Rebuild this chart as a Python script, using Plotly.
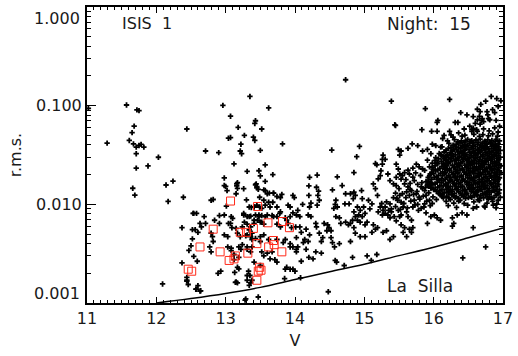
import plotly.graph_objects as go

# Photometric scatter: r.m.s. of each light curve versus V magnitude.
# Bright field stars (V < 12.65)
stars_bright = [
    (11.02, 0.094), (11.57, 0.1016), (11.72, 0.0906), (11.75, 0.089), (11.68, 0.0621),
    (11.65, 0.0533), (11.61, 0.0444), (11.67, 0.041), (11.71, 0.038), (11.75, 0.0395),
    (11.78, 0.0405), (11.82, 0.038), (11.29, 0.0417), (11.71, 0.0326), (12.03, 0.030),
    (11.71, 0.0233), (11.88, 0.0245), (12.44, 0.058), (12.24, 0.0172), (12.14, 0.0157),
    (11.66, 0.01456), (11.69, 0.0124), (12.17, 0.0107), (12.39, 0.0118), (12.54, 0.0081),
    (12.37, 0.0058), (12.52, 0.00554), (12.56, 0.00554), (12.52, 0.00447), (12.47, 0.00341),
    (12.50, 0.0038), (12.54, 0.00297), (12.37, 0.00255), (12.44, 0.00182), (12.44, 0.00167),
    (12.46, 0.00154), (12.09, 0.00156), (12.57, 0.00138), (12.59, 0.00265), (12.60, 0.0052),
    (12.58, 0.00138), (12.63, 0.00132), (12.53, 0.0081), (12.58, 0.0081), (12.60, 0.0015),
    (12.44, 0.0017),
]

# Stars between V = 12.6 and 14.1
stars_mid = [
    (13.35, 0.124), (12.96, 0.1008), (13.62, 0.0948), (13.07, 0.0782), (13.43, 0.0703),
    (13.42, 0.066), (13.18, 0.0603), (13.52, 0.058), (13.04, 0.0468), (13.07, 0.0475),
    (13.27, 0.050), (13.40, 0.0479), (13.42, 0.0444), (13.22, 0.0407), (13.82, 0.041),
    (12.71, 0.0347), (12.90, 0.0334), (13.21, 0.0347), (13.23, 0.0326), (13.50, 0.0352),
    (13.57, 0.0251), (13.12, 0.0257), (13.31, 0.0216), (13.48, 0.0219), (13.50, 0.0194),
    (13.68, 0.020), (12.98, 0.0185), (13.57, 0.0171), (13.17, 0.0166), (13.16, 0.0154),
    (13.17, 0.0145), (13.00, 0.0152), (13.02, 0.0138), (13.43, 0.0158), (13.45, 0.0151),
    (13.47, 0.0142), (13.55, 0.014), (13.26, 0.0144), (13.15, 0.0128), (13.63, 0.013),
    (13.69, 0.013), (13.81, 0.0126), (13.79, 0.0117), (13.97, 0.0123), (13.99, 0.0117),
    (12.79, 0.011), (12.82, 0.0112), (13.30, 0.0111), (13.49, 0.0118), (13.55, 0.011),
    (13.62, 0.0105), (13.68, 0.0105), (13.90, 0.0098), (13.01, 0.0096), (13.34, 0.0094),
    (13.37, 0.0093), (13.41, 0.0094), (13.45, 0.0098), (13.49, 0.0094), (13.52, 0.0091),
    (13.57, 0.0098), (13.64, 0.0094), (13.74, 0.0094), (13.79, 0.0084), (13.93, 0.0094),
    (13.97, 0.0082), (12.69, 0.0075), (12.71, 0.0064), (12.91, 0.0077), (13.08, 0.0075),
    (13.04, 0.0064), (13.26, 0.0078), (13.31, 0.0075), (13.36, 0.0076), (13.43, 0.0078),
    (13.48, 0.0075), (13.52, 0.0077), (13.57, 0.0075), (13.67, 0.0077), (13.74, 0.0075),
    (13.86, 0.0073), (13.90, 0.0064), (12.63, 0.0064), (12.65, 0.0059), (13.07, 0.0064),
    (13.09, 0.0058), (13.27, 0.0066), (13.31, 0.0063), (13.36, 0.0059), (13.41, 0.0064),
    (13.46, 0.0069), (13.50, 0.0066), (13.55, 0.0063), (13.74, 0.0063), (13.79, 0.0059),
    (13.88, 0.0069), (13.95, 0.0058), (14.01, 0.0059), (12.79, 0.0051), (12.82, 0.0042),
    (12.81, 0.0047), (12.98, 0.0049), (13.03, 0.0047), (13.17, 0.0051), (13.21, 0.0047),
    (13.31, 0.0049), (13.36, 0.0047), (13.38, 0.0044), (13.50, 0.0047), (13.55, 0.0049),
    (13.62, 0.0044), (13.86, 0.0044), (13.93, 0.0040), (13.97, 0.0037), (12.77, 0.0037),
    (12.79, 0.0033), (13.03, 0.0037), (13.08, 0.0036), (13.19, 0.0037), (13.22, 0.0035),
    (13.31, 0.0035), (13.36, 0.0033), (13.52, 0.0033), (13.60, 0.0032), (13.67, 0.0033),
    (13.71, 0.00275), (12.93, 0.0021), (13.12, 0.00275), (13.19, 0.00222), (13.41, 0.0026),
    (13.50, 0.0024), (13.86, 0.0022), (13.93, 0.0022), (14.00, 0.0021), (13.15, 0.00163),
    (13.31, 0.0017), (13.36, 0.0016), (13.34, 0.00151), (13.85, 0.00177), (12.64, 0.00133),
    (13.29, 0.0011), (13.47, 0.00115), (12.98, 0.0155), (13.16, 0.0161), (13.44, 0.0161),
    (13.45, 0.0147), (13.57, 0.0138), (13.60, 0.0128), (13.69, 0.0130), (13.74, 0.0120),
    (12.84, 0.0069), (12.91, 0.0064), (12.98, 0.0078), (13.10, 0.0072), (13.26, 0.0081),
    (13.34, 0.0075), (13.41, 0.0069), (13.48, 0.0078), (13.52, 0.0066), (13.60, 0.0078),
    (13.69, 0.0075), (13.78, 0.0081), (13.93, 0.0075), (14.07, 0.0075), (13.15, 0.0057),
    (13.24, 0.0059), (13.34, 0.0055), (13.38, 0.0051), (13.29, 0.0048), (13.43, 0.0045),
    (13.50, 0.0042), (13.31, 0.0037), (13.24, 0.0039), (13.38, 0.0037), (13.74, 0.0044),
    (13.83, 0.0041), (13.93, 0.0037), (14.02, 0.0035), (14.12, 0.0041), (13.08, 0.0034),
    (13.12, 0.0031), (13.19, 0.0029), (13.55, 0.0030), (13.64, 0.0028), (13.74, 0.0026),
    (13.88, 0.0023), (13.97, 0.0022), (12.89, 0.0020), (13.31, 0.0019), (13.38, 0.0017),
    (13.17, 0.0016), (13.13, 0.00204), (13.14, 0.00162), (13.17, 0.0023), (13.33, 0.0021),
    (13.35, 0.0019), (13.28, 0.00107),
]

# Stars between V = 14.0 and 15.45
stars_faint = [
    (14.73, 0.183), (15.39, 0.111), (15.44, 0.064), (14.53, 0.0355), (14.93, 0.0386),
    (14.89, 0.0304), (14.85, 0.021), (15.16, 0.0259), (15.18, 0.0251), (15.27, 0.0316),
    (15.26, 0.0286), (15.30, 0.0286), (15.26, 0.0255), (15.24, 0.0219), (15.23, 0.0195),
    (15.20, 0.0181), (15.34, 0.0203), (15.37, 0.0174), (15.42, 0.0161), (14.21, 0.0188),
    (14.32, 0.0198), (14.61, 0.019), (14.20, 0.0154), (14.31, 0.0149), (14.34, 0.0136),
    (14.20, 0.0123), (14.23, 0.0103), (14.21, 0.0094), (14.33, 0.0123), (14.35, 0.011),
    (14.32, 0.0098), (14.11, 0.010), (14.54, 0.014), (14.68, 0.0155), (14.80, 0.0128),
    (14.85, 0.0133), (14.87, 0.0123), (14.84, 0.0114), (14.96, 0.0138), (14.97, 0.0114),
    (14.59, 0.011), (14.58, 0.010), (14.61, 0.0094), (14.56, 0.0091), (14.73, 0.0128),
    (14.72, 0.0101), (14.78, 0.0101), (14.90, 0.0094), (14.94, 0.0087), (14.99, 0.0094),
    (15.06, 0.011), (15.11, 0.0101), (15.08, 0.009), (15.13, 0.0161), (15.16, 0.0144),
    (15.19, 0.0123), (15.23, 0.0094), (15.27, 0.0087), (15.30, 0.0081), (15.34, 0.0078),
    (15.37, 0.0101), (15.39, 0.009), (15.42, 0.0117), (15.43, 0.0075), (14.04, 0.0087),
    (14.02, 0.0078), (14.19, 0.0078), (14.23, 0.0075), (14.30, 0.0064), (14.31, 0.0059),
    (14.42, 0.0064), (14.47, 0.0062), (14.49, 0.0058), (14.52, 0.0054), (14.46, 0.0054),
    (14.59, 0.0075), (14.64, 0.0073), (14.66, 0.0064), (14.73, 0.0066), (14.77, 0.0062),
    (14.80, 0.0064), (14.85, 0.0058), (14.90, 0.0069), (14.94, 0.0066), (15.01, 0.0062),
    (15.04, 0.0066), (15.13, 0.0062), (15.16, 0.0056), (15.11, 0.0052), (15.19, 0.0058),
    (15.27, 0.0052), (15.32, 0.0054), (15.37, 0.0044), (15.42, 0.0047), (14.07, 0.0059),
    (14.16, 0.0056), (14.09, 0.0052), (14.21, 0.0049), (14.14, 0.0044), (14.19, 0.0042),
    (14.35, 0.0051), (14.38, 0.0042), (14.40, 0.0046), (14.52, 0.0046), (14.54, 0.0041),
    (14.57, 0.0037), (14.64, 0.0040), (14.80, 0.0042), (14.87, 0.0051), (14.94, 0.0047),
    (15.01, 0.0047), (14.02, 0.0046), (14.04, 0.0037), (14.02, 0.0033), (14.16, 0.0035),
    (14.30, 0.0033), (14.38, 0.0032), (14.20, 0.0029), (14.26, 0.0028), (14.09, 0.00265),
    (14.58, 0.0027), (14.60, 0.0026), (14.71, 0.0024), (14.83, 0.0029), (15.04, 0.0030),
    (15.10, 0.0027), (15.18, 0.0031), (14.08, 0.0018), (14.48, 0.0013), (15.25, 0.0102),
    (15.30, 0.0094), (15.35, 0.0087), (15.39, 0.0084), (15.32, 0.0106), (15.20, 0.0084),
    (15.26, 0.0078), (15.37, 0.0073), (14.85, 0.0084), (14.87, 0.0075), (14.92, 0.0078),
    (14.83, 0.0069), (14.97, 0.0075), (15.01, 0.0081),
]

# Stars between V = 15.4 and 17, outside the dense clump
stars_outer = [
    (16.23, 0.1156), (16.83, 0.124), (16.75, 0.111), (16.68, 0.103), (16.63, 0.092),
    (15.88, 0.0933), (16.39, 0.085), (16.48, 0.0807), (16.78, 0.0807), (16.81, 0.072),
    (16.72, 0.069), (16.67, 0.065), (16.05, 0.0676), (16.31, 0.0676), (16.35, 0.0676),
    (15.83, 0.0571), (15.97, 0.055), (16.05, 0.055), (16.15, 0.050), (16.13, 0.0465),
    (16.23, 0.055), (16.25, 0.0505), (16.41, 0.049), (16.46, 0.044), (16.55, 0.055),
    (16.57, 0.059), (16.62, 0.057), (15.69, 0.041), (15.63, 0.0369), (15.53, 0.0347),
    (15.49, 0.036), (15.51, 0.0316), (15.77, 0.0394), (15.84, 0.0347), (15.91, 0.036),
    (15.98, 0.0407), (16.03, 0.0394), (16.10, 0.038), (15.96, 0.0326), (16.03, 0.0297),
    (15.91, 0.028), (16.10, 0.032), (16.15, 0.029), (15.75, 0.0255), (15.79, 0.024),
    (15.70, 0.0233), (15.84, 0.0228), (15.63, 0.0222), (15.58, 0.021), (15.65, 0.0203),
    (15.46, 0.0255), (15.49, 0.0228), (15.51, 0.0203), (15.46, 0.0188), (15.53, 0.018),
    (15.46, 0.0155), (15.50, 0.0144), (15.45, 0.013), (15.51, 0.0123), (15.48, 0.011),
    (15.53, 0.0105), (15.58, 0.0161), (15.63, 0.015), (15.68, 0.0138), (15.61, 0.0134),
    (15.65, 0.0123), (15.72, 0.0174), (15.77, 0.0159), (15.82, 0.015), (15.87, 0.0138),
    (15.75, 0.0128), (15.79, 0.0118), (15.91, 0.0158), (15.96, 0.0146), (15.89, 0.0123),
    (15.94, 0.011), (15.98, 0.0102), (15.72, 0.011), (15.77, 0.010), (15.70, 0.0094),
    (15.82, 0.0091), (15.87, 0.0101), (15.56, 0.0094), (15.61, 0.0084), (15.53, 0.0078),
    (15.63, 0.0075), (15.68, 0.0069), (15.49, 0.0087), (15.51, 0.0075), (15.46, 0.0068),
    (15.53, 0.0062), (15.58, 0.0058), (15.65, 0.0056), (15.70, 0.0058), (15.56, 0.0052),
    (15.61, 0.0047), (15.68, 0.0052), (15.89, 0.0082), (15.96, 0.0075), (16.01, 0.0078),
    (16.05, 0.0073), (16.10, 0.0069), (15.91, 0.0064), (16.27, 0.0073), (16.29, 0.0064),
    (16.27, 0.0060), (16.34, 0.0078), (16.41, 0.0082), (16.48, 0.0078), (16.57, 0.0091),
    (16.74, 0.0094), (16.86, 0.0098), (16.91, 0.0101), (16.57, 0.0058), (16.75, 0.0037),
    (16.42, 0.00286), (15.45, 0.0095), (15.47, 0.0115), (15.52, 0.0089), (15.55, 0.0128),
    (15.57, 0.0102), (15.60, 0.0117), (15.62, 0.0092), (15.66, 0.0141), (15.67, 0.0108),
    (15.71, 0.0126), (15.73, 0.0099), (15.76, 0.0135), (15.78, 0.0087), (15.80, 0.0113),
    (15.83, 0.0166), (15.85, 0.0121), (15.86, 0.0094), (15.88, 0.0148), (15.90, 0.0108),
    (15.92, 0.0187), (15.93, 0.0131), (15.95, 0.0097), (15.97, 0.0162), (15.99, 0.0119),
    (16.00, 0.0205), (16.02, 0.0142), (16.04, 0.0112), (16.06, 0.0178), (16.08, 0.0128),
    (15.55, 0.0195), (15.60, 0.0178), (15.66, 0.0163), (15.70, 0.0189), (15.74, 0.0208),
    (15.81, 0.0196), (15.87, 0.0221), (15.94, 0.0240), (15.98, 0.0262), (15.89, 0.0170),
    (15.84, 0.0145), (16.06, 0.0708), (15.45, 0.063),
    (16.60, 0.066), (16.70, 0.074), (16.88, 0.085), (16.93, 0.098), (16.90, 0.071),
    (16.95, 0.062), (16.52, 0.062), (16.44, 0.058), (16.36, 0.053), (16.28, 0.048),
    (16.20, 0.044), (16.85, 0.091), (16.77, 0.087), (16.66, 0.078), (16.97, 0.112),
    (16.91, 0.118), (16.67, 0.0871), (16.57, 0.0776), (16.63, 0.0718), (16.69, 0.0708),
    (16.79, 0.0738),
]

# Dense clump of faint stars, V = 15.9 to 17
stars_clump = [
    (16.55, 0.0572), (16.63, 0.0549), (16.72, 0.0581), (16.80, 0.0556), (16.88, 0.0595), (16.93, 0.0541),
    (16.45, 0.0503), (16.58, 0.0512), (16.66, 0.0489), (16.71, 0.0508), (16.79, 0.0495), (16.85, 0.0517),
    (16.92, 0.0492),
    (16.30, 0.0452), (16.40, 0.0439), (16.49, 0.0455), (16.55, 0.0441), (16.61, 0.0449), (16.67, 0.0458),
    (16.74, 0.0437), (16.78, 0.0451), (16.84, 0.0443), (16.90, 0.0456), (16.95, 0.0440),
    (16.22, 0.0415), (16.33, 0.0408), (16.38, 0.0419), (16.45, 0.0406), (16.52, 0.0414), (16.58, 0.0421),
    (16.63, 0.0405), (16.70, 0.0417), (16.76, 0.0409), (16.82, 0.0418), (16.87, 0.0404), (16.93, 0.0413),
    (16.12, 0.0383), (16.25, 0.0377), (16.31, 0.0386), (16.36, 0.0374), (16.42, 0.0381), (16.48, 0.0388),
    (16.54, 0.0376), (16.60, 0.0384), (16.66, 0.0373), (16.71, 0.0385), (16.77, 0.0379), (16.83, 0.0387),
    (16.89, 0.0375), (16.94, 0.0382),
    (16.18, 0.0354), (16.27, 0.0347), (16.33, 0.0356), (16.39, 0.0345), (16.45, 0.0352), (16.51, 0.0358),
    (16.57, 0.0346), (16.63, 0.0353), (16.69, 0.0349), (16.74, 0.0357), (16.80, 0.0344), (16.86, 0.0355),
    (16.91, 0.0348), (16.96, 0.0353),
    (16.08, 0.0327), (16.20, 0.0321), (16.26, 0.0329), (16.31, 0.0318), (16.37, 0.0325), (16.43, 0.0331),
    (16.48, 0.0319), (16.54, 0.0326), (16.60, 0.0322), (16.65, 0.0330), (16.71, 0.0317), (16.77, 0.0328),
    (16.83, 0.0323), (16.88, 0.0320), (16.94, 0.0327),
    (16.14, 0.0302), (16.22, 0.0296), (16.28, 0.0304), (16.34, 0.0293), (16.40, 0.0300), (16.46, 0.0306),
    (16.51, 0.0295), (16.57, 0.0301), (16.63, 0.0297), (16.68, 0.0305), (16.74, 0.0292), (16.80, 0.0303),
    (16.85, 0.0298), (16.91, 0.0294), (16.96, 0.0301),
    (16.02, 0.0278), (16.11, 0.0272), (16.18, 0.0280), (16.24, 0.0270), (16.30, 0.0276), (16.36, 0.0281),
    (16.42, 0.0271), (16.48, 0.0277), (16.54, 0.0273), (16.59, 0.0279), (16.65, 0.0269), (16.71, 0.0276),
    (16.76, 0.0274), (16.82, 0.0280), (16.88, 0.0271), (16.93, 0.0277),
    (16.06, 0.0257), (16.15, 0.0251), (16.21, 0.0258), (16.27, 0.0249), (16.33, 0.0255), (16.39, 0.0260),
    (16.45, 0.0250), (16.50, 0.0256), (16.56, 0.0252), (16.62, 0.0259), (16.68, 0.0248), (16.73, 0.0255),
    (16.79, 0.0253), (16.85, 0.0258), (16.90, 0.0250), (16.95, 0.0256),
    (15.98, 0.0237), (16.09, 0.0231), (16.17, 0.0238), (16.23, 0.0229), (16.29, 0.0235), (16.35, 0.0240),
    (16.41, 0.0230), (16.47, 0.0236), (16.53, 0.0232), (16.59, 0.0239), (16.64, 0.0228), (16.70, 0.0235),
    (16.76, 0.0233), (16.81, 0.0238), (16.87, 0.0230), (16.93, 0.0236),
    (16.03, 0.0219), (16.13, 0.0213), (16.20, 0.0220), (16.26, 0.0211), (16.32, 0.0217), (16.38, 0.0222),
    (16.44, 0.0212), (16.50, 0.0218), (16.56, 0.0214), (16.61, 0.0221), (16.67, 0.0210), (16.73, 0.0217),
    (16.78, 0.0215), (16.84, 0.0220), (16.90, 0.0212), (16.95, 0.0218),
    (15.95, 0.0203), (16.07, 0.0197), (16.16, 0.0204), (16.22, 0.0195), (16.28, 0.0201), (16.34, 0.0206),
    (16.40, 0.0196), (16.46, 0.0202), (16.52, 0.0198), (16.58, 0.0205), (16.64, 0.0194), (16.69, 0.0201),
    (16.75, 0.0199), (16.81, 0.0204), (16.87, 0.0196), (16.92, 0.0202),
    (16.01, 0.0187), (16.11, 0.0181), (16.19, 0.0188), (16.25, 0.0179), (16.31, 0.0185), (16.37, 0.0190),
    (16.43, 0.0180), (16.49, 0.0186), (16.55, 0.0182), (16.61, 0.0189), (16.66, 0.0178), (16.72, 0.0185),
    (16.78, 0.0183), (16.84, 0.0188), (16.89, 0.0180), (16.95, 0.0186),
    (15.92, 0.0172), (16.05, 0.0167), (16.14, 0.0173), (16.21, 0.0165), (16.27, 0.0171), (16.33, 0.0175),
    (16.39, 0.0166), (16.45, 0.0172), (16.51, 0.0168), (16.57, 0.0174), (16.63, 0.0164), (16.69, 0.0171),
    (16.74, 0.0169), (16.80, 0.0173), (16.86, 0.0166), (16.92, 0.0172),
    (15.99, 0.0159), (16.09, 0.0154), (16.17, 0.0160), (16.24, 0.0152), (16.30, 0.0158), (16.36, 0.0162),
    (16.42, 0.0153), (16.48, 0.0159), (16.54, 0.0155), (16.60, 0.0161), (16.66, 0.0151), (16.71, 0.0158),
    (16.77, 0.0156), (16.83, 0.0160), (16.89, 0.0153), (16.94, 0.0159),
    (15.96, 0.0147), (16.12, 0.0142), (16.20, 0.0148), (16.27, 0.0141), (16.33, 0.0146), (16.39, 0.0150),
    (16.45, 0.0141), (16.51, 0.0147), (16.57, 0.0143), (16.63, 0.0149), (16.68, 0.0140), (16.74, 0.0146),
    (16.80, 0.0144), (16.86, 0.0148), (16.91, 0.0142),
    (16.04, 0.0135), (16.15, 0.0131), (16.23, 0.0136), (16.30, 0.0129), (16.36, 0.0134), (16.42, 0.0138),
    (16.48, 0.0130), (16.54, 0.0135), (16.60, 0.0132), (16.65, 0.0137), (16.71, 0.0128), (16.77, 0.0134),
    (16.83, 0.0132), (16.88, 0.0136), (16.94, 0.0130),
    (16.10, 0.0125), (16.19, 0.0121), (16.26, 0.0126), (16.33, 0.0119), (16.40, 0.0124), (16.47, 0.0127),
    (16.53, 0.0120), (16.62, 0.0125), (16.68, 0.0122), (16.75, 0.0126), (16.81, 0.0119), (16.90, 0.0124),
    (16.14, 0.0116), (16.24, 0.0112), (16.31, 0.0117), (16.38, 0.0110), (16.46, 0.0115), (16.55, 0.0118),
    (16.64, 0.0111), (16.72, 0.0116), (16.79, 0.0113), (16.87, 0.0117), (16.93, 0.0110),
    (16.18, 0.0107), (16.29, 0.0103), (16.36, 0.0108), (16.44, 0.0102), (16.58, 0.0106), (16.66, 0.0109),
    (16.77, 0.0103), (16.85, 0.0107),
    (16.21, 0.0097), (16.33, 0.0093), (16.49, 0.0098), (16.62, 0.0094), (16.73, 0.0096), (16.90, 0.0092),
]

# More members of the clump, lying between the ones above
stars_clump_b = [
    (16.35, 0.0431), (16.44, 0.0426), (16.53, 0.0433), (16.64, 0.0425), (16.73, 0.0430), (16.81, 0.0428),
    (16.89, 0.0434),
    (16.28, 0.0398), (16.41, 0.0393), (16.49, 0.0399), (16.56, 0.0394), (16.68, 0.0397), (16.74, 0.0392),
    (16.85, 0.0400), (16.91, 0.0395),
    (16.21, 0.0367), (16.29, 0.0362), (16.39, 0.0368), (16.46, 0.0363), (16.57, 0.0366), (16.64, 0.0361),
    (16.72, 0.0369), (16.79, 0.0364), (16.87, 0.0367), (16.93, 0.0362),
    (16.15, 0.0339), (16.24, 0.0335), (16.35, 0.0340), (16.41, 0.0334), (16.52, 0.0338), (16.59, 0.0336),
    (16.67, 0.0341), (16.75, 0.0333), (16.83, 0.0339), (16.90, 0.0335),
    (16.11, 0.0313), (16.18, 0.0309), (16.25, 0.0314), (16.37, 0.0308), (16.44, 0.0312), (16.54, 0.0310),
    (16.61, 0.0315), (16.71, 0.0307), (16.78, 0.0313), (16.86, 0.0309), (16.93, 0.0311),
    (16.07, 0.0289), (16.17, 0.0285), (16.26, 0.0290), (16.32, 0.0284), (16.43, 0.0288), (16.49, 0.0286),
    (16.60, 0.0291), (16.66, 0.0283), (16.77, 0.0289), (16.83, 0.0285), (16.94, 0.0287),
    (16.05, 0.0266), (16.14, 0.0262), (16.21, 0.0267), (16.33, 0.0261), (16.39, 0.0265), (16.51, 0.0263),
    (16.57, 0.0268), (16.69, 0.0260), (16.74, 0.0266), (16.85, 0.0262), (16.91, 0.0264),
    (16.02, 0.0246), (16.12, 0.0242), (16.19, 0.0247), (16.30, 0.0241), (16.37, 0.0245), (16.48, 0.0243),
    (16.53, 0.0248), (16.65, 0.0240), (16.71, 0.0246), (16.82, 0.0242), (16.88, 0.0244), (16.97, 0.0245),
    (15.99, 0.0227), (16.06, 0.0223), (16.16, 0.0228), (16.23, 0.0222), (16.32, 0.0226), (16.42, 0.0224),
    (16.50, 0.0229), (16.58, 0.0221), (16.67, 0.0227), (16.75, 0.0223), (16.84, 0.0225), (16.92, 0.0226),
    (15.97, 0.0210), (16.10, 0.0206), (16.17, 0.0211), (16.29, 0.0205), (16.35, 0.0209), (16.47, 0.0207),
    (16.53, 0.0212), (16.64, 0.0204), (16.71, 0.0210), (16.80, 0.0206), (16.88, 0.0208), (16.97, 0.0209),
    (15.94, 0.0194), (16.04, 0.0190), (16.13, 0.0195), (16.24, 0.0189), (16.31, 0.0193), (16.40, 0.0191),
    (16.49, 0.0196), (16.58, 0.0188), (16.66, 0.0194), (16.75, 0.0190), (16.82, 0.0192), (16.91, 0.0193),
    (15.97, 0.0179), (16.08, 0.0175), (16.17, 0.0180), (16.23, 0.0174), (16.34, 0.0178), (16.41, 0.0176),
    (16.53, 0.0181), (16.59, 0.0173), (16.70, 0.0179), (16.77, 0.0175), (16.87, 0.0177), (16.93, 0.0178),
    (15.95, 0.0165), (16.02, 0.0161), (16.11, 0.0166), (16.18, 0.0160), (16.29, 0.0164), (16.36, 0.0162),
    (16.48, 0.0167), (16.55, 0.0159), (16.65, 0.0165), (16.72, 0.0161), (16.82, 0.0163), (16.89, 0.0164),
    (15.93, 0.0153), (16.06, 0.0149), (16.14, 0.0154), (16.21, 0.0148), (16.32, 0.0152), (16.39, 0.0150),
    (16.51, 0.0155), (16.57, 0.0147), (16.69, 0.0153), (16.74, 0.0149), (16.86, 0.0151), (16.92, 0.0152),
    (16.00, 0.0141), (16.09, 0.0137), (16.18, 0.0142), (16.26, 0.0136), (16.34, 0.0140), (16.45, 0.0138),
    (16.52, 0.0143), (16.62, 0.0135), (16.69, 0.0141), (16.79, 0.0137), (16.86, 0.0139), (16.95, 0.0140),
    (16.07, 0.0130), (16.13, 0.0126), (16.21, 0.0131), (16.27, 0.0125), (16.39, 0.0129), (16.45, 0.0127),
    (16.57, 0.0132), (16.63, 0.0124), (16.74, 0.0130), (16.80, 0.0126), (16.92, 0.0128),
    (16.12, 0.0120), (16.22, 0.0116), (16.29, 0.0121), (16.36, 0.0115), (16.43, 0.0119), (16.50, 0.0117),
    (16.59, 0.0122), (16.66, 0.0114), (16.77, 0.0120), (16.84, 0.0116), (16.96, 0.0118),
]

# Flagged stars (open red squares)
flagged = [
    (13.07, 0.0108), (13.46, 0.0095), (13.61, 0.0065), (13.82, 0.0067), (13.92, 0.0058),
    (12.82, 0.0056), (13.21, 0.0052), (13.30, 0.0052), (13.40, 0.0057), (13.45, 0.0040),
    (13.69, 0.0043), (13.70, 0.0039), (13.62, 0.0037), (13.81, 0.0033), (12.63, 0.0037),
    (12.92, 0.0033), (13.14, 0.0030), (13.12, 0.0028), (13.05, 0.0027), (13.32, 0.0032),
    (13.49, 0.0023), (13.51, 0.00215), (13.47, 0.0021), (13.45, 0.0017), (12.46, 0.0022),
    (12.51, 0.0021),
]

# Expected noise floor for the site
noise_v = [12.0, 12.5, 13.0, 13.5, 14.0, 14.5, 15.0, 15.5, 16.0, 16.5, 17.0]
noise_rms = [0.00100, 0.00111, 0.00125, 0.00144, 0.00173, 0.00207, 0.00247, 0.00302, 0.00368, 0.00458, 0.00575]

x_ticks = [11, 12, 13, 14, 15, 16, 17]
y_ticks = [0.001, 0.01, 0.1, 1.0]
# The two end labels are drawn as annotations, nudged inside the frame
y_tick_text = ["", "0.010", "0.100", ""]
y_end_labels = ["0.001", "1.000"]
y_minor = [m * d for d in (0.001, 0.01, 0.1) for m in range(2, 10)]

all_stars = stars_bright + stars_mid + stars_faint + stars_outer + stars_clump + stars_clump_b
star_v = [p[0] for p in all_stars]
star_rms = [p[1] for p in all_stars]
flag_v = [p[0] for p in flagged]
flag_rms = [p[1] for p in flagged]

FONT = "DejaVu Sans"
TXT = "#1a1a1a"

fig = go.Figure()
fig.add_trace(go.Scatter(
    x=star_v, y=star_rms, mode="markers",
    marker=dict(symbol="cross", size=4.5, color="black", line=dict(width=0)),
    hoverinfo="skip",
))
fig.add_trace(go.Scatter(
    x=flag_v, y=flag_rms, mode="markers",
    marker=dict(symbol="square-open", size=8, color="#ff2a1a", line=dict(width=1, color="#ff2a1a")),
    hoverinfo="skip",
))
fig.add_trace(go.Scatter(
    x=noise_v, y=noise_rms, mode="lines",
    line=dict(color="black", width=1.5, shape="spline"),
    hoverinfo="skip",
))

fig.update_layout(
    width=518, height=356,
    margin=dict(l=87, r=9, t=5, b=53),
    paper_bgcolor="white", plot_bgcolor="white",
    showlegend=False,
    font=dict(family=FONT, color=TXT, size=16),
    xaxis=dict(
        range=[11, 17], tickvals=x_ticks, ticklabeloverflow="allow",
        ticks="inside", ticklen=6, tickwidth=1.2, tickcolor="black",
        showline=True, linewidth=2, linecolor="black", mirror="allticks",
        showgrid=False, zeroline=False,
        minor=dict(dtick=0.1, tick0=11, ticks="inside", ticklen=3, tickwidth=1,
                   tickcolor="black", showgrid=False),
        tickfont=dict(family=FONT, size=16, color=TXT),
        title=dict(text="V", font=dict(family=FONT, size=16, color=TXT), standoff=8),
    ),
    yaxis=dict(
        type="log", range=[-3, 0],
        tickvals=y_ticks, ticktext=y_tick_text,
        ticks="inside", ticklen=9, tickwidth=1.2, tickcolor="black",
        showline=True, linewidth=2, linecolor="black", mirror="allticks",
        showgrid=False, zeroline=False,
        minor=dict(tickvals=y_minor, ticks="inside", ticklen=4, tickwidth=1,
                   tickcolor="black", showgrid=False),
        tickfont=dict(family=FONT, size=16, color=TXT),
        title=dict(text="r.m.s.", font=dict(family=FONT, size=16, color=TXT), standoff=10),
    ),
    annotations=[
        dict(x=0, y=0, xref="paper", yref="paper", text=y_end_labels[0], showarrow=False,
             xanchor="right", yanchor="bottom", xshift=-5, yshift=-2,
             font=dict(family=FONT, size=16, color=TXT)),
        dict(x=0, y=1, xref="paper", yref="paper", text=y_end_labels[1], showarrow=False,
             xanchor="right", yanchor="top", xshift=-5, yshift=0,
             font=dict(family=FONT, size=16, color=TXT)),
        dict(x=11.86, y=-0.17, xref="x", yref="y", text="ISIS  1", showarrow=False,
             font=dict(family=FONT, size=16, color=TXT)),
        dict(x=15.93, y=-0.17, xref="x", yref="y", text="Night:  15", showarrow=False,
             font=dict(family=FONT, size=17, color=TXT)),
        dict(x=15.8, y=-2.83, xref="x", yref="y", text="La  Silla", showarrow=False,
             font=dict(family=FONT, size=17, color=TXT)),
    ],
)

fig.write_html("out.html")
